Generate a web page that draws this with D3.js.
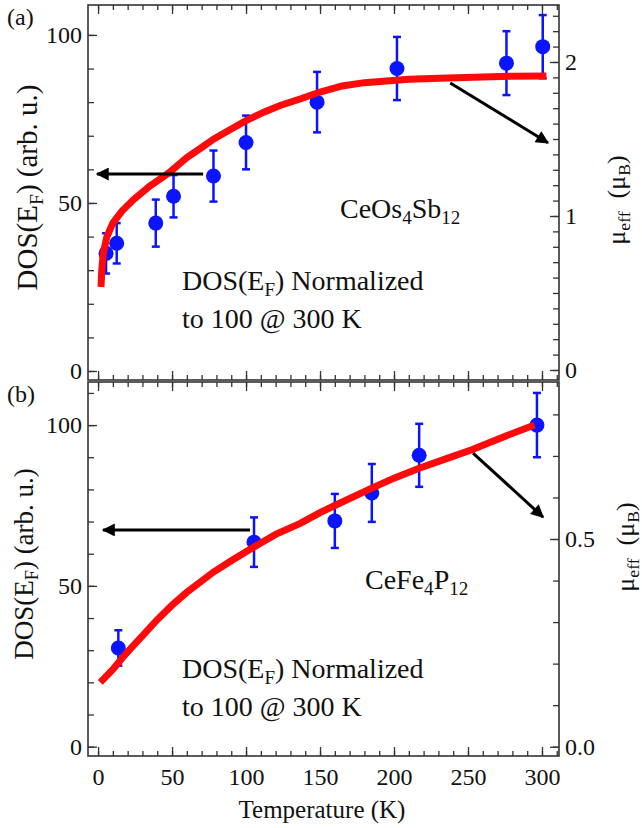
<!DOCTYPE html>
<html>
<head>
<meta charset="utf-8">
<script src="https://cdn.jsdelivr.net/npm/d3@7"></script>
<style>
  body { margin: 0; background: #fff; }
  svg { display: block; font-family: "Liberation Serif", "Times New Roman", serif; }
</style>
</head>
<body>
<svg id="chart" width="642" height="828"></svg>
<script>
// shared temperature axis
const tempTicks = [0, 50, 100, 150, 200, 250, 300];
const tempMinor = d3.range(0, 311, 10);

// (a) CeOs4Sb12 : DOS(EF) points with error bars
const osPointT = [5.4, 12.6, 39, 51, 78, 100, 148, 202, 276, 300.5];
const osPointDos = [35, 38, 44, 52, 58, 68, 80, 90, 91.6, 96.5];
const osPointErr = [6, 6, 7, 6.3, 7.6, 8, 9, 9.4, 9.5, 9.4];
// (a) mu_eff curve, drawn against the left scale
const osCurveT = [2, 2.5, 3.5, 6, 10, 16, 24, 35, 48, 60, 70, 78, 90, 100, 112, 123, 137, 150, 165, 180, 195, 210, 236, 260, 280, 303];
const osCurveDos = [25, 30, 35, 40, 44, 47.5, 51, 55, 59, 63.5, 66.5, 69, 72, 74.5, 77, 79, 81, 83, 84.8, 85.8, 86.3, 86.8, 87.2, 87.5, 87.7, 87.8];
const osDosTicks = [0, 50, 100];
const osMuTicks = [0, 1, 2];

// (b) CeFe4P12
const fePointT = [13.7, 105.4, 160, 185, 217, 296.6];
const fePointDos = [30.7, 63.6, 70.2, 78.9, 90.6, 100];
const fePointErr = [5.5, 7.7, 8.4, 9, 9.8, 10];
const feCurveT = [1.5, 10, 18, 24, 32, 40, 50, 60, 70, 78, 90, 105, 120, 137, 150, 160, 185, 200, 217, 235, 253, 276, 295];
const feCurveDos = [20, 24, 28.5, 31.5, 35.5, 39.5, 44, 48, 51.5, 54.3, 57.8, 62, 66, 69.5, 72.8, 75, 80.4, 83.5, 86.6, 89.5, 92.4, 96.7, 100];
const feDosTicks = [0, 50, 100];
const feMuTicks = [0.0, 0.5];

const svg = d3.select("#chart");
const x = d3.scaleLinear().domain([-6.8, 311.5]).range([88, 559]);

svg.append("defs").append("marker")
    .attr("id", "head")
    .attr("viewBox", "0 0 10 10")
    .attr("refX", 9).attr("refY", 5)
    .attr("markerWidth", 16).attr("markerHeight", 13)
    .attr("markerUnits", "userSpaceOnUse")
    .attr("orient", "auto")
    .append("path").attr("d", "M0,0 L10,5 L0,10 z").attr("fill", "#000");

// writes text made of [string, isSubscript] parts
function richText(sel, parts, size) {
    parts.forEach(([s, sub], i) => {
        const t = sel.append("tspan").text(s);
        if (sub) t.attr("font-size", size * 0.68).attr("dy", size * 0.2);
        else if (i > 0 && parts[i - 1][1]) t.attr("dy", -size * 0.2);
    });
}

function drawPanel(p) {
    const y = d3.scaleLinear().domain(p.dosDomain).range([p.bottom, p.top]);
    const yr = d3.scaleLinear().domain(p.muDomain).range([p.bottom, p.top]);
    const g = svg.append("g");

    const tickStyle = sel => {
        sel.select(".domain").remove();
        sel.selectAll(".tick line").attr("stroke", "#333").attr("stroke-width", 1.3);
        sel.selectAll(".tick text").attr("fill", "#111").attr("font-size", 24)
            .attr("font-family", "Liberation Serif, serif");
    };

    // minor and major ticks on all four sides, pointing inward
    [[tempMinor, 5], [tempTicks, 9]].forEach(([vals, len]) => {
        g.append("g").attr("transform", `translate(0,${p.top})`)
            .call(d3.axisTop(x).tickValues(vals).tickSizeInner(-len).tickSizeOuter(0).tickFormat(""))
            .call(tickStyle);
    });
    g.append("g").attr("transform", `translate(0,${p.bottom})`)
        .call(d3.axisBottom(x).tickValues(tempMinor).tickSizeInner(-5).tickSizeOuter(0).tickFormat(""))
        .call(tickStyle);
    g.append("g").attr("transform", `translate(0,${p.bottom})`)
        .call(d3.axisBottom(x).tickValues(tempTicks).tickSizeInner(-9).tickSizeOuter(0).tickPadding(12)
            .tickFormat(p.showX ? d3.format("d") : ""))
        .call(tickStyle);

    g.append("g").attr("transform", "translate(88,0)")
        .call(d3.axisLeft(y).tickValues(d3.range(0, p.dosDomain[1], 10)).tickSizeInner(-6).tickSizeOuter(0).tickFormat(""))
        .call(tickStyle);
    g.append("g").attr("transform", "translate(88,0)")
        .call(d3.axisLeft(y).tickValues(p.dosTicks).tickSizeInner(-9).tickSizeOuter(0).tickPadding(6).tickFormat(d3.format("d")))
        .call(tickStyle);

    g.append("g").attr("transform", "translate(559,0)")
        .call(d3.axisRight(yr).tickValues(d3.range(0, p.muDomain[1], 0.1)).tickSizeInner(-6).tickSizeOuter(0).tickFormat(""))
        .call(tickStyle);
    g.append("g").attr("transform", "translate(559,0)")
        .call(d3.axisRight(yr).tickValues(p.muTicks).tickSizeInner(-9).tickSizeOuter(0).tickPadding(6).tickFormat(p.muFormat))
        .call(tickStyle);

    g.append("rect")
        .attr("x", 88).attr("y", p.top)
        .attr("width", 559 - 88).attr("height", p.bottom - p.top)
        .attr("fill", "none").attr("stroke", "#333").attr("stroke-width", 1.6);

    // points with error bars
    const pts = p.pointT.map((t, i) => ({ t, v: p.pointDos[i], e: p.pointErr[i] }));
    const eb = g.append("g").attr("stroke", "#0a14ff").attr("stroke-width", 2.5);
    eb.selectAll(".bar").data(pts).enter().append("line")
        .attr("x1", d => x(d.t)).attr("x2", d => x(d.t))
        .attr("y1", d => y(d.v - d.e)).attr("y2", d => y(d.v + d.e));
    eb.selectAll(".capTop").data(pts).enter().append("line")
        .attr("x1", d => x(d.t) - 4).attr("x2", d => x(d.t) + 4)
        .attr("y1", d => y(d.v + d.e)).attr("y2", d => y(d.v + d.e));
    eb.selectAll(".capBot").data(pts).enter().append("line")
        .attr("x1", d => x(d.t) - 4).attr("x2", d => x(d.t) + 4)
        .attr("y1", d => y(d.v - d.e)).attr("y2", d => y(d.v - d.e));
    g.selectAll(".pt").data(pts).enter().append("circle")
        .attr("cx", d => x(d.t)).attr("cy", d => y(d.v)).attr("r", 7.5)
        .attr("fill", "#0a14ff");

    // red mu_eff curve
    const curve = p.curveT.map((t, i) => [t, p.curveDos[i]]);
    g.append("path").datum(curve)
        .attr("d", d3.line().x(d => x(d[0])).y(d => y(d[1])))
        .attr("fill", "none").attr("stroke", "#ff0a0a").attr("stroke-width", 7)
        .attr("stroke-linejoin", "miter");

    // arrows
    p.arrows.forEach(a => {
        g.append("line")
            .attr("x1", x(a[0])).attr("y1", y(a[1]))
            .attr("x2", x(a[2])).attr("y2", y(a[3]))
            .attr("stroke", "#000").attr("stroke-width", 3)
            .attr("marker-end", "url(#head)");
    });

    // texts
    g.append("text").attr("x", 7).attr("y", p.top + 20).attr("font-size", 24).attr("fill", "#111").text(p.tag);

    const note = g.append("text").attr("font-size", 28).attr("fill", "#111");
    const l1 = note.append("tspan").attr("x", 182).attr("y", p.noteY);
    richText(l1, [["DOS(E"], ["F", true], [") Normalized"]], 28);
    note.append("tspan").attr("x", 182).attr("y", p.noteY + 38).text("to 100 @ 300 K");

    const comp = g.append("text").attr("x", p.compX).attr("y", p.compY).attr("font-size", 28).attr("fill", "#111");
    richText(comp, p.compound, 28);

    const yl = g.append("text")
        .attr("transform", `translate(${p.ylabelX},${(p.top + p.bottom) / 2 - 5}) rotate(-90)`)
        .attr("text-anchor", "middle").attr("font-size", p.ylabelSize).attr("fill", "#111");
    richText(yl, [["DOS(E"], ["F", true], [") (arb. u.)"]], p.ylabelSize);

    const ml = g.append("text")
        .attr("transform", `translate(${p.mulabelX},${p.mulabelY}) rotate(-90)`)
        .attr("text-anchor", "middle").attr("font-size", 26).attr("fill", "#111");
    richText(ml, [["\u03bc"], ["eff", true], ["\u2002(\u03bc"], ["B", true], [")"]], 26);
}

drawPanel({
    top: 5, bottom: 380,
    dosDomain: [-2.68, 108.9], muDomain: [-0.065, 2.37],
    dosTicks: osDosTicks, muTicks: osMuTicks, muFormat: d3.format("d"),
    pointT: osPointT, pointDos: osPointDos, pointErr: osPointErr,
    curveT: osCurveT, curveDos: osCurveDos,
    arrows: [[71, 58.6, -0.7, 58.6], [238, 85.7, 304, 67.9]],
    tag: "(a)", noteY: 290, compX: 340, compY: 218,
    compound: [["CeOs"], ["4", true], ["Sb"], ["12", true]],
    ylabelX: 37, ylabelSize: 29, mulabelX: 625, mulabelY: 200,
    showX: false
});

drawPanel({
    top: 382, bottom: 756,
    dosDomain: [-2.9, 113.4], muDomain: [-0.0224, 0.878],
    dosTicks: feDosTicks, muTicks: feMuTicks, muFormat: d3.format(".1f"),
    pointT: fePointT, pointDos: fePointDos, pointErr: fePointErr,
    curveT: feCurveT, curveDos: feCurveDos,
    arrows: [[102.7, 67.4, 3.4, 67.4], [253.4, 91.3, 300.7, 71.4]],
    tag: "(b)", noteY: 678, compX: 365, compY: 589,
    compound: [["CeFe"], ["4", true], ["P"], ["12", true]],
    ylabelX: 33, ylabelSize: 27, mulabelX: 634, mulabelY: 547,
    showX: true
});

svg.append("text")
    .attr("x", 322).attr("y", 818)
    .attr("text-anchor", "middle").attr("font-size", 25).attr("fill", "#111")
    .text("Temperature (K)");
</script>
</body>
</html>
